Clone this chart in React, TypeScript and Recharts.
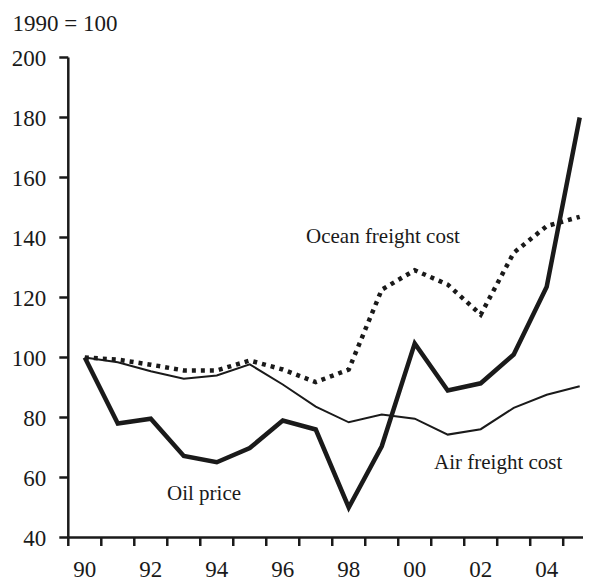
import { Line, LineChart, XAxis, YAxis } from "recharts";

const YEARS = ["90", "91", "92", "93", "94", "95", "96", "97", "98", "99", "00", "01", "02", "03", "04", "05"];
const OIL_PRICE = [100, 78, 79.6, 67.2, 65.1, 69.8, 79, 76, 50, 70.4, 104.7, 89, 91.4, 101, 123.6, 180];
const AIR_FREIGHT = [100, 98.4, 95.4, 92.9, 94, 97.7, 91, 83.6, 78.4, 81, 79.6, 74.3, 76.1, 83.2, 87.6, 90.4];
const OCEAN_FREIGHT = [100, 99.3, 97.6, 95.7, 95.7, 99, 96, 91.8, 96, 122.6, 129.1, 124.3, 114.3, 134.9, 143.8, 146.9];
const Y_TICKS = [40, 60, 80, 100, 120, 140, 160, 180, 200];

const INK = "#1a1a1a";
const FONT = "'Liberation Serif', 'Times New Roman', serif";

const data = YEARS.map((year, i) => ({
  x: i,
  year,
  oil: OIL_PRICE[i],
  air: AIR_FREIGHT[i],
  ocean: OCEAN_FREIGHT[i],
}));

// tick marks sit between the years (x.5), labels under every second year
const boundaryTicks = YEARS.map((_, i) => i - 0.5);
const labelTicks = YEARS.map((_, i) => i).filter((i) => i % 2 === 0);
const xTicks = [...boundaryTicks, ...labelTicks].sort((a, b) => a - b);

const axisStyle = { stroke: INK, strokeWidth: 2.5 };
const tickStyle = { fill: INK, fontSize: 23, fontFamily: FONT };

function YearTick(props: any) {
  const { x, y, payload } = props;
  const v = payload.value as number;
  if (!Number.isInteger(v)) {
    return <line x1={x} x2={x} y1={y} y2={y + 8.5} stroke={INK} strokeWidth={2.5} />;
  }
  return (
    <text x={x} y={y + 23} dy="0.71em" textAnchor="middle" {...tickStyle}>
      {YEARS[v]}
    </text>
  );
}

export default function App() {
  return (
    <div style={{ position: "absolute", left: 0, top: 0, width: 590, height: 581, background: "#fff" }}>
      <LineChart
        width={590}
        height={581}
        data={data}
        margin={{ top: 57.5, right: 7, bottom: 0, left: 0 }}
      >
        <XAxis
          dataKey="x"
          type="number"
          domain={[-0.5, 15.1]}
          ticks={xTicks}
          interval={0}
          tick={<YearTick />}
          tickLine={false}
          tickSize={0}
          tickMargin={0}
          height={43.5}
          axisLine={axisStyle}
        />
        <YAxis
          type="number"
          domain={[40, 200]}
          ticks={Y_TICKS}
          width={68.3}
          tick={tickStyle}
          tickSize={9}
          tickMargin={13}
          axisLine={axisStyle}
          tickLine={axisStyle}
        />
        <Line
          type="linear"
          dataKey="ocean"
          stroke={INK}
          strokeWidth={4.5}
          strokeDasharray="4 5"
          dot={false}
          isAnimationActive={false}
        />
        <Line
          type="linear"
          dataKey="air"
          stroke={INK}
          strokeWidth={2}
          dot={false}
          isAnimationActive={false}
        />
        <Line
          type="linear"
          dataKey="oil"
          stroke={INK}
          strokeWidth={4.5}
          dot={false}
          isAnimationActive={false}
        />
      </LineChart>
      <svg
        width={590}
        height={581}
        style={{ position: "absolute", left: 0, top: 0, pointerEvents: "none" }}
      >
        <text x={12.5} y={31} fontSize={23} fontFamily={FONT} fill={INK}>
          1990 = 100
        </text>
        <text x={306} y={243} fontSize={21} fontFamily={FONT} fill={INK}>
          Ocean freight cost
        </text>
        <text x={434} y={469} fontSize={21} fontFamily={FONT} fill={INK}>
          Air freight cost
        </text>
        <text x={167} y={500} fontSize={21} fontFamily={FONT} fill={INK}>
          Oil price
        </text>
      </svg>
    </div>
  );
}
